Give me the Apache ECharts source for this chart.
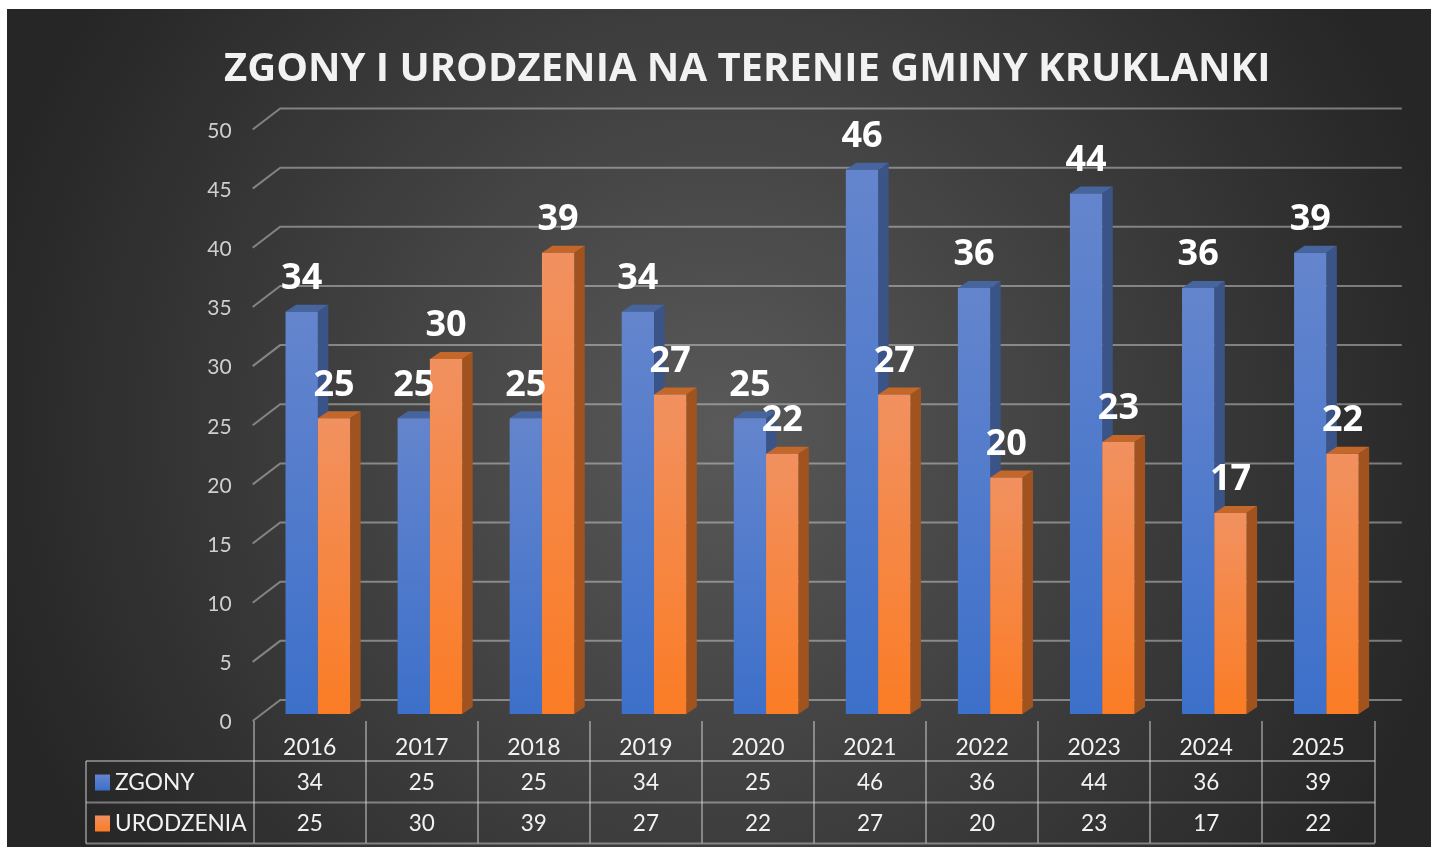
<!DOCTYPE html>
<html><head><meta charset="utf-8">
<style>html,body{margin:0;padding:0;background:#fff}#c{width:1431px;height:847px}</style>
<script src="https://cdn.jsdelivr.net/npm/echarts@6/dist/echarts.min.js"></script>
</head><body><div id="c"></div>
<script>
const titleText = 'ZGONY I URODZENIA NA TERENIE GMINY KRUKLANKI';
const years = ['2016','2017','2018','2019','2020','2021','2022','2023','2024','2025'];
const zgony = [34,25,25,34,25,46,36,44,36,39];
const urodzenia = [25,30,39,27,22,27,20,23,17,22];
const ticks = [0,5,10,15,20,25,30,35,40,45,50];

const FONT = 'Lato';
const DEPTH_X = 10.5, DEPTH_Y = 7, FLOOR_LIFT = 7, BAR_W = 32.3;
const WALL_X = 27.5, WALL_Y = 21;
const LINE = 'rgba(217,217,217,0.47)';
const lg = (a,b)=>new echarts.graphic.LinearGradient(0,0,0,1,[{offset:0,color:a},{offset:1,color:b}]);

function barSeries(name, values, offset, top, bottom, sideC, topC) {
  return {
    type:'custom', name, data: values.map((v,i)=>[i,v]),
    encode:{x:0,y:1}, itemStyle:{color:lg(top,bottom)}, silent:true, z:3,
    renderItem(params, api){
      const c = api.coord([api.value(0), api.value(1)]);
      const b = api.coord([api.value(0), 0]);
      const x0 = c[0] + offset, x1 = x0 + BAR_W;
      const yt = c[1] - FLOOR_LIFT, yb = b[1] - FLOOR_LIFT;
      return {type:'group', children:[
        {type:'polygon', shape:{points:[[x1,yt],[x1+DEPTH_X,yt-DEPTH_Y],[x1+DEPTH_X,yb-DEPTH_Y],[x1,yb]]}, style:{fill:sideC}},
        {type:'polygon', shape:{points:[[x0,yt],[x0+DEPTH_X,yt-DEPTH_Y],[x1+DEPTH_X,yt-DEPTH_Y],[x1,yt]]}, style:{fill:topC}},
        {type:'rect', shape:{x:x0,y:yt,width:BAR_W,height:yb-yt}, style:{fill:lg(top,bottom)}}
      ]};
    }
  };
}
function labelSeries(name, values, offset) {
  return {
    type:'custom', name: name+' etykiety', data: values.map((v,i)=>[i,v]), encode:{x:0,y:1}, silent:true, z:6,
    renderItem(params, api){
      const c = api.coord([api.value(0), api.value(1)]);
      return {type:'text', style:{text:String(api.value(1)), x:c[0]+offset+BAR_W/2, y:c[1]-FLOOR_LIFT-33,
        fill:'#ffffff', font:'bold 36px "Open Sans"', textAlign:'center', textVerticalAlign:'middle'}};
    }
  };
}
function cellSeries(name, values, rowOffset) {
  return {
    type:'custom', name: name+' tabela', data: values.map((v,i)=>[i,v]), encode:{x:0}, silent:true, z:4,
    renderItem(params, api){
      const b = api.coord([api.value(0), 0]);
      return {type:'text', style:{text:String(api.value(1)), x:b[0], y:b[1]+rowOffset,
        fill:'#f2f2f2', font:'22.5px '+FONT, textAlign:'center', textVerticalAlign:'middle'}};
    }
  };
}
const wallSeries = {
  type:'custom', name:'siatka', data: ticks.map(t=>[0,t]), encode:{y:1}, silent:true, z:1,
  renderItem(params, api){
    const cs = params.coordSys;
    const y = api.coord([0, api.value(1)])[1];
    return {type:'polyline', shape:{points:[[cs.x-1,y],[cs.x+WALL_X-1,y-WALL_Y],[cs.x+cs.width+WALL_X,y-WALL_Y]]},
      style:{stroke:LINE, lineWidth:2, fill:null}};
  }
};

const chart = echarts.init(document.getElementById('c'), null, {renderer:'canvas'});
chart.setOption({
  animation:false,
  backgroundColor:'#ffffff',
  title:{text:titleText, left:224, top:50, padding:0,
    textStyle:{color:'#f2f2f2', fontFamily:'Open Sans', fontWeight:'bold', fontSize:40}},
  grid:{left:253.7, right:56.7, top:129.5, bottom:126, containLabel:false},
  legend:{
    orient:'vertical', left:90, top:766, itemGap:18, itemWidth:15, itemHeight:16, icon:'rect',
    selectedMode:false, data:['ZGONY','URODZENIA'],
    textStyle:{color:'#f2f2f2', fontFamily:FONT, fontSize:22.7}
  },
  xAxis:{type:'category', data:years, boundaryGap:true,
    axisLine:{show:false},
    axisTick:{show:true, length:122, lineStyle:{color:LINE,width:2}},
    axisLabel:{color:'#f2f2f2', fontFamily:FONT, fontSize:23, margin:15},
    splitLine:{show:false}},
  yAxis:{type:'value', min:0, max:50, interval:5,
    axisLine:{show:false}, axisTick:{show:false}, splitLine:{show:false},
    axisLabel:{color:'#cfcfcf', fontFamily:FONT, fontSize:21, margin:22, verticalAlign:'top', padding:[-9,0,0,0]}},
  graphic:[
    {type:'rect', z:-10, silent:true, shape:{x:7,y:9,width:1424,height:838},
      style:{fill:new echarts.graphic.RadialGradient(0.5,0.5,0.9,[{offset:0,color:'#595959'},{offset:1,color:'#262626'}])}},
    {type:'line', z:5, silent:true, shape:{x1:86,y1:761,x2:1375,y2:761}, style:{stroke:LINE,lineWidth:2}},
    {type:'line', z:5, silent:true, shape:{x1:86,y1:802.5,x2:1375,y2:802.5}, style:{stroke:LINE,lineWidth:2}},
    {type:'line', z:5, silent:true, shape:{x1:86,y1:843.5,x2:1375,y2:843.5}, style:{stroke:LINE,lineWidth:2}},
    {type:'line', z:5, silent:true, shape:{x1:86,y1:761,x2:86,y2:843.5}, style:{stroke:LINE,lineWidth:2}}
  ],
  series:[
    wallSeries,
    barSeries('ZGONY', zgony, -24.2, '#6485cd', '#3d70ca', '#3b5488', '#46659f'),
    barSeries('URODZENIA', urodzenia, 8.1, '#f19160', '#fb7c25', '#a0531f', '#c4672b'),
    labelSeries('ZGONY', zgony, -24.2),
    labelSeries('URODZENIA', urodzenia, 8.1),
    cellSeries('ZGONY', zgony, 62),
    cellSeries('URODZENIA', urodzenia, 103)
  ]
});
</script></body></html>
